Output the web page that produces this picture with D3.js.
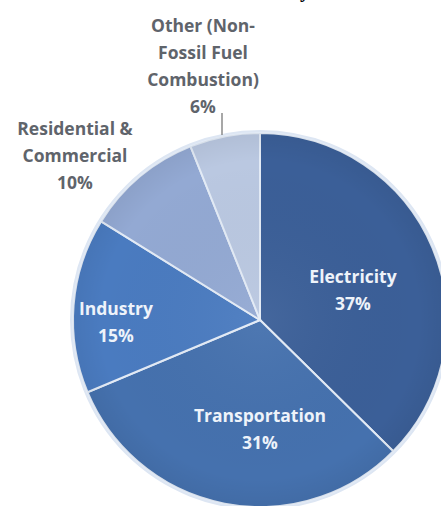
<!DOCTYPE html>
<html>
<head>
<meta charset="utf-8">
<script src="https://d3js.org/d3.v7.min.js"></script>
<style>
  body { margin: 0; background: #fff; }
  svg { display: block; }
  .lbl { font-family: 'Open Sans', sans-serif; font-weight: bold; font-size: 17.5px; }
</style>
</head>
<body>
<div id="chart"></div>
<script>
// sector shares, clockwise from 12 o'clock
var sectors = ["Electricity", "Transportation", "Industry", "Residential & Commercial", "Other (Non-Fossil Fuel Combustion)"];
var shares = [37, 31, 15, 10, 6];
var labelLines = [
    ["Electricity", "37%"],
    ["Transportation", "31%"],
    ["Industry", "15%"],
    ["Residential &", "Commercial", "10%"],
    ["Other (Non-", "Fossil Fuel", "Combustion)", "6%"]
];
var colors = ["#3b5f98", "#4571ae", "#4a7bc0", "#93a9d3", "#bac8e1"];

// label anchor (centre of first line) and whether it sits inside the pie
var labelPos = [
    { x: 353, y: 277, inside: true },
    { x: 260, y: 416, inside: true },
    { x: 116, y: 309, inside: true },
    { x: 75, y: 129, inside: false },
    { x: 203, y: 26, inside: false }
];

var width = 441, height = 506;
var cx = 260, cy = 320, r = 187;

var svg = d3.select("#chart").append("svg")
    .attr("width", width)
    .attr("height", height);

// cropped title descender at the very top
svg.append("text")
    .attr("x", 300)
    .attr("y", -3)
    .style("font-family", "'Liberation Serif', serif")
    .style("font-weight", "bold")
    .style("font-size", "20px")
    .text("y");

var defs = svg.append("defs");
var grad = defs.append("radialGradient")
    .attr("id", "shade")
    .attr("gradientUnits", "userSpaceOnUse")
    .attr("cx", cx).attr("cy", cy).attr("r", r);
grad.append("stop").attr("offset", "0%").attr("stop-color", "#fff").attr("stop-opacity", 0.05);
grad.append("stop").attr("offset", "85%").attr("stop-color", "#000").attr("stop-opacity", 0);
grad.append("stop").attr("offset", "100%").attr("stop-color", "#000").attr("stop-opacity", 0.05);

var pie = d3.pie().sort(null).value(function (d) { return d; });
var arc = d3.arc().innerRadius(0).outerRadius(r);

var g = svg.append("g").attr("transform", "translate(" + cx + "," + cy + ")");

// soft halo round the pie
g.append("circle")
    .attr("r", r + 1.5)
    .attr("fill", "none")
    .attr("stroke", "#dde6f3")
    .attr("stroke-width", 3);

var arcs = pie(shares);

g.selectAll("path.slice")
    .data(arcs)
    .enter()
    .append("path")
    .attr("class", "slice")
    .attr("d", arc)
    .attr("fill", function (d, i) { return colors[i]; })
    .attr("stroke", "#e3ebf6")
    .attr("stroke-width", 2);

svg.append("circle")
    .attr("cx", cx).attr("cy", cy).attr("r", r)
    .attr("fill", "url(#shade)");

// leader line for the small slice
svg.append("line")
    .attr("x1", 222).attr("y1", 113)
    .attr("x2", 222).attr("y2", cy - r + 2)
    .attr("stroke", "#8a8a8a")
    .attr("stroke-width", 1.5);

var lineH = 27;
labelPos.forEach(function (p, i) {
    var t = svg.append("text")
        .attr("class", "lbl")
        .attr("text-anchor", "middle")
        .attr("fill", p.inside ? "#eef3fa" : "#5f646b");
    labelLines[i].forEach(function (s, k) {
        t.append("tspan")
            .attr("x", p.x)
            .attr("y", p.y + k * lineH)
            .attr("dy", "0.35em")
            .text(s);
    });
});
</script>
</body>
</html>
